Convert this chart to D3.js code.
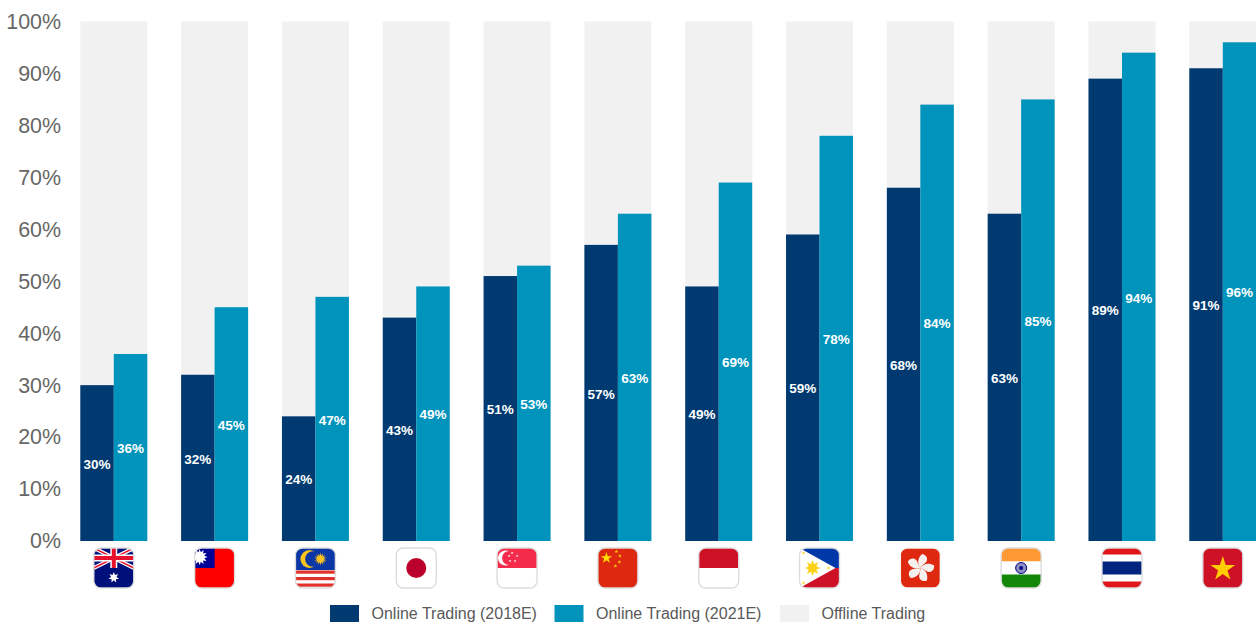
<!DOCTYPE html>
<html>
<head>
<meta charset="utf-8">
<script src="https://cdn.jsdelivr.net/npm/d3@7/dist/d3.min.js"></script>
<style>
  html, body { margin: 0; padding: 0; background: #fff; }
  svg { display: block; font-family: "Liberation Sans", Arial, sans-serif; }
</style>
</head>
<body>
<svg id="chart" width="1256" height="624"></svg>
<script>
// Markets, ordered as on the axis
const markets = ["Australia", "Taiwan", "Malaysia", "Japan", "Singapore", "China",
                 "Indonesia", "Philippines", "Hong Kong", "India", "Thailand", "Vietnam"];
const online2018 = [30, 32, 24, 43, 51, 57, 49, 59, 68, 63, 89, 91];
const online2021 = [36, 45, 47, 49, 53, 63, 69, 78, 84, 85, 94, 96];
const tickValues = [0, 10, 20, 30, 40, 50, 60, 70, 80, 90, 100];
const legendLabels = ["Online Trading (2018E)", "Online Trading (2021E)", "Offline Trading"];

const NAVY = "#003a70", TEAL = "#0093bb", OFFLINE = "#f1f1f1";

const svg = d3.select("#chart");

const x = d3.scaleBand().domain(markets).range([80.3, 1256.3]).paddingInner(0.3354).paddingOuter(0);
const y = d3.scaleLinear().domain([0, 100]).range([541, 21.5]);
const half = x.bandwidth() / 2;

// Value axis: labels only, no line or tick marks
const yAxis = d3.axisLeft(y).tickValues(tickValues).tickFormat(d => d + "%").tickSize(0).tickPadding(0);
const axisG = svg.append("g").attr("transform", "translate(61,0)").call(yAxis);
axisG.select(".domain").remove();
axisG.selectAll("text").attr("font-size", 21.4).attr("fill", "#666666")
  .attr("font-family", '"Liberation Sans", Arial, sans-serif');

// Offline remainder sits behind both online bars
svg.append("g").selectAll("rect").data(markets).join("rect")
  .attr("x", d => x(d)).attr("width", x.bandwidth())
  .attr("y", y(100)).attr("height", y(0) - y(100))
  .attr("fill", OFFLINE);

function drawSeries(values, color, offset) {
  const g = svg.append("g");
  g.selectAll("rect").data(values).join("rect")
    .attr("x", (d, i) => x(markets[i]) + offset)
    .attr("width", half)
    .attr("y", d => y(d))
    .attr("height", d => y(0) - y(d))
    .attr("fill", color);
  g.selectAll("text").data(values).join("text")
    .attr("x", (d, i) => x(markets[i]) + offset + half / 2)
    .attr("y", d => y(d / 2))
    .attr("dy", "0.42em")
    .attr("text-anchor", "middle")
    .attr("font-size", 13.5)
    .attr("font-weight", "bold")
    .attr("fill", "#ffffff")
    .text(d => d + "%");
}
drawSeries(online2018, NAVY, 0);
drawSeries(online2021, TEAL, half);

// Flag artwork, drawn in a 40x40 local box
const defs = svg.append("defs");
defs.append("clipPath").attr("id", "flagClip")
  .append("rect").attr("width", 40).attr("height", 40).attr("rx", 7);

function starPath(cx, cy, r, points = 5, innerRatio = 0.382, rot = -Math.PI / 2) {
  const pts = [];
  for (let i = 0; i < points * 2; i++) {
    const a = rot + i * Math.PI / points;
    const rad = i % 2 ? r * innerRatio : r;
    pts.push([cx + rad * Math.cos(a), cy + rad * Math.sin(a)]);
  }
  return d3.line()(pts) + "Z";
}
const R = (g, x0, y0, w, h, fill) => g.append("rect").attr("x", x0).attr("y", y0).attr("width", w).attr("height", h).attr("fill", fill);
const C = (g, cx, cy, r, fill) => g.append("circle").attr("cx", cx).attr("cy", cy).attr("r", r).attr("fill", fill);
const P = (g, d, fill) => g.append("path").attr("d", d).attr("fill", fill);
const L = (g, x1, y1, x2, y2, stroke, w) => g.append("line").attr("x1", x1).attr("y1", y1).attr("x2", x2).attr("y2", y2).attr("stroke", stroke).attr("stroke-width", w);

const flagPainters = {
  Australia(g) {
    R(g, 0, 0, 40, 40, "#00107a");
    L(g, 0, 0, 40, 20, "#fff", 4); L(g, 40, 0, 0, 20, "#fff", 4);
    L(g, 0, 0, 40, 20, "#e8112d", 1.4); L(g, 40, 0, 0, 20, "#e8112d", 1.4);
    R(g, 16.5, 0, 7, 20, "#fff"); R(g, 0, 6.5, 40, 7, "#fff");
    R(g, 18, 0, 4, 20, "#e8112d"); R(g, 0, 8, 40, 4, "#e8112d");
    P(g, starPath(20, 29.5, 5.5, 7, 0.5), "#fff");
  },
  Taiwan(g) {
    R(g, 0, 0, 40, 40, "#fe0000");
    R(g, 0, 0, 20, 20, "#000095");
    P(g, starPath(5, 9, 8, 12, 0.6), "#fff");
  },
  Malaysia(g) {
    R(g, 0, 0, 40, 40, "#fff");
    R(g, 0, 0, 40, 22, "#0a37a5");
    [22.5, 29, 35.5].forEach(v => R(g, 0, v, 40, 3.2, "#e0322b"));
    C(g, 14, 11, 9, "#fcc31c"); C(g, 17.5, 11, 7.8, "#0a37a5");
    P(g, starPath(25, 11, 6.5, 14, 0.5), "#fcc31c");
  },
  Japan(g) {
    R(g, 0, 0, 40, 40, "#fff");
    C(g, 20, 20, 10, "#bc002d");
  },
  Singapore(g) {
    R(g, 0, 0, 40, 40, "#fff");
    R(g, 0, 0, 40, 20, "#f52b4b");
    C(g, 8.5, 10, 7.6, "#fff"); C(g, 12, 10, 7, "#f52b4b");
    [[15, 5], [20, 8], [18, 13], [13, 13], [12, 8]].forEach(p => P(g, starPath(p[0], p[1], 1.5), "#fff"));
  },
  China(g) {
    R(g, 0, 0, 40, 40, "#de2910");
    P(g, starPath(8.5, 10, 6), "#ffde00");
    [[18.5, 3.5], [22, 8], [21.5, 14], [17.5, 18]].forEach(p => P(g, starPath(p[0], p[1], 2), "#ffde00"));
  },
  Indonesia(g) {
    R(g, 0, 0, 40, 40, "#fff");
    R(g, 0, 0, 40, 20, "#ce1126");
  },
  Philippines(g) {
    R(g, 0, 0, 40, 20, "#0038a8");
    R(g, 0, 20, 40, 20, "#ce1126");
    P(g, "M0,0L36,20L0,40Z", "#fff");
    P(g, starPath(13, 20, 8, 8, 0.5), "#fcd116");
    C(g, 13, 20, 4.5, "#fcd116");
    [[4, 5], [29, 20], [4, 35]].forEach(p => P(g, starPath(p[0], p[1], 2), "#fcd116"));
  },
  "Hong Kong"(g) {
    R(g, 0, 0, 40, 40, "#de2910");
    [0, 72, 144, 216, 288].forEach(a => {
      g.append("path")
        .attr("d", "M0,0C-4,-3,-5,-9,-1,-14C3,-14,6,-11,4.5,-7C3.5,-5,1,-3,0,0Z")
        .attr("fill", "#f6f0ee")
        .attr("transform", `translate(20,20) rotate(${a + 12})`);
    });
  },
  India(g) {
    R(g, 0, 0, 40, 13.5, "#ff9933");
    R(g, 0, 13.5, 40, 13, "#fff");
    R(g, 0, 26.5, 40, 13.5, "#138808");
    g.append("circle").attr("cx", 20).attr("cy", 20).attr("r", 5.5).attr("fill", "#8f8fc4").attr("stroke", "#000080").attr("stroke-width", 1);
    C(g, 20, 20, 2, "#000080");
  },
  Thailand(g) {
    R(g, 0, 0, 40, 40, "#fff");
    R(g, 0, 0, 40, 6.5, "#e0161b"); R(g, 0, 33.5, 40, 6.5, "#e0161b");
    R(g, 0, 13.5, 40, 13, "#00247d");
  },
  Vietnam(g) {
    R(g, 0, 0, 40, 40, "#ce1126");
    P(g, starPath(20, 21, 13), "#ffcd00");
  }
};
const noFrame = new Set(["Hong Kong"]);

markets.forEach(m => {
  const outer = svg.append("g").attr("transform", `translate(${x(m) + half - 20},548)`);
  const art = outer.append("g").attr("clip-path", "url(#flagClip)");
  flagPainters[m](art);
  outer.append("rect").attr("width", 40).attr("height", 40).attr("rx", 7)
    .attr("fill", "none")
    .attr("stroke", noFrame.has(m) ? "#f4f4f4" : "#dddddd")
    .attr("stroke-width", 1.4);
});

// Legend row
const legendColors = [NAVY, TEAL, OFFLINE];
const legendX = d3.scaleOrdinal().domain(legendLabels).range([330, 554.5, 780]);
const legend = svg.append("g").selectAll("g").data(legendLabels).join("g")
  .attr("transform", d => `translate(${legendX(d)},605)`);
legend.append("rect").attr("width", 29).attr("height", 17)
  .attr("fill", (d, i) => legendColors[i]);
legend.append("text").attr("x", 41.5).attr("y", 8.5).attr("dy", "0.36em")
  .attr("font-size", 16).attr("fill", "#595959").text(d => d);
</script>
</body>
</html>
